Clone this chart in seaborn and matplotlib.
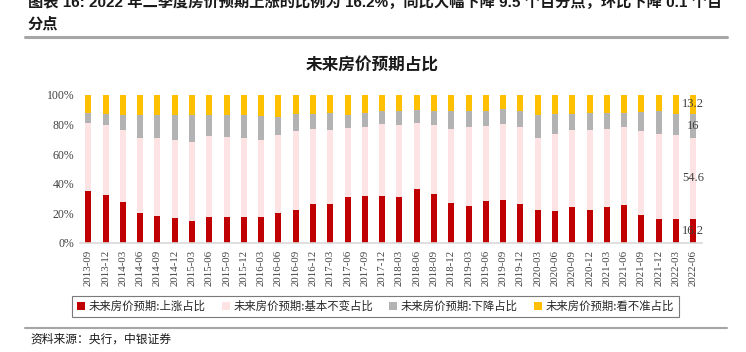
import matplotlib
matplotlib.use("Agg")
import matplotlib.pyplot as plt
from matplotlib.patches import Patch
from matplotlib.lines import Line2D
import seaborn as sns
import pandas as pd

dates = ["2013-09", "2013-12", "2014-03", "2014-06", "2014-09", "2014-12",
         "2015-03", "2015-06", "2015-09", "2015-12", "2016-03", "2016-06",
         "2016-09", "2016-12", "2017-03", "2017-06", "2017-09", "2017-12",
         "2018-03", "2018-06", "2018-09", "2018-12", "2019-03", "2019-06",
         "2019-09", "2019-12", "2020-03", "2020-06", "2020-09", "2020-12",
         "2021-03", "2021-06", "2021-09", "2021-12", "2022-03", "2022-06"]

up = [35.2, 32.1, 27.8, 20.5, 18.5, 16.7, 14.9, 17.6, 17.8, 17.6, 17.2, 20.5,
      22.3, 26.6, 26.4, 30.7, 31.4, 31.4, 30.7, 36.1, 33.2, 26.9, 25.1, 28.0,
      29.1, 26.2, 22.3, 21.9, 24.6, 22.3, 24.6, 25.7, 19.2, 16.0, 16.3, 16.2]
unchanged = [45.8, 47.4, 48.7, 50.6, 52.4, 52.6, 53.5, 54.4, 53.8, 53.1, 52.1, 52.4,
             52.9, 50.4, 49.9, 46.5, 46.5, 48.5, 48.8, 44.7, 46.3, 50.1, 53.2, 51.0,
             50.8, 51.7, 48.4, 51.9, 51.5, 53.8, 52.4, 52.2, 56.4, 57.4, 56.4, 54.6]
down = [6.6, 7.4, 10.0, 15.4, 15.6, 16.9, 17.8, 14.5, 14.6, 15.5, 16.5, 12.2,
        11.7, 9.9, 11.3, 9.3, 9.9, 9.3, 9.7, 9.0, 9.7, 12.2, 10.9, 10.2,
        10.4, 11.3, 15.8, 13.1, 10.8, 11.5, 10.8, 9.7, 12.7, 15.8, 14.2, 16.0]
uncertain = [12.4, 13.1, 13.5, 13.5, 13.5, 13.8, 13.8, 13.5, 13.8, 13.8, 14.2, 14.9,
             13.1, 13.1, 12.4, 13.5, 12.2, 10.8, 10.8, 10.2, 10.8, 10.8, 10.8, 10.8,
             9.7, 10.8, 13.5, 13.1, 13.1, 12.4, 12.2, 12.4, 11.7, 10.8, 13.1, 13.2]

series_names = ["未来房价预期:上涨占比", "未来房价预期:基本不变占比",
                "未来房价预期:下降占比", "未来房价预期:看不准占比"]
colors = ["#C00000", "#FDE3E3", "#B3B3B3", "#FFC000"]

header1 = "图表 16: 2022 年二季度房价预期上涨的比例为 16.2%，同比大幅下降 9.5 个百分点，环比下降 0.1 个百"
header2 = "分点"
title = "未来房价预期占比"
source = "资料来源：央行，中银证券"

sns.set_style("white")
plt.rcParams["font.family"] = ["Liberation Serif", "Noto Sans CJK SC", "DejaVu Sans"]

df = pd.DataFrame({"date": dates, "up": up, "unchanged": unchanged,
                   "down": down, "uncertain": uncertain})
df["c1"] = df["up"]
df["c2"] = df["c1"] + df["unchanged"]
df["c3"] = df["c2"] + df["down"]
df["c4"] = df["c3"] + df["uncertain"]

fig = plt.figure(figsize=(7.46, 3.52), dpi=100)
ax = fig.add_axes([0.1068, 0.3097, 0.8341, 0.4213])

for col, color in zip(["c4", "c3", "c2", "c1"], colors[::-1]):
    sns.barplot(data=df, x="date", y=col, color=color, width=0.35,
                errorbar=None, ax=ax, saturation=1, linewidth=0)

ax.set_ylim(0, 100)
ax.set_xlim(-0.5, len(dates) - 0.5)
ax.set_yticks([0, 20, 40, 60, 80, 100])
ax.set_yticklabels([f"{v}%" for v in [0, 20, 40, 60, 80, 100]])
ax.set_xlabel("")
ax.set_ylabel("")
for s in ["top", "right", "left"]:
    ax.spines[s].set_visible(False)
ax.spines["bottom"].set_color("#D9D9D9")
ax.spines["bottom"].set_linewidth(1.2)
ax.tick_params(axis="y", length=0, labelsize=8.5, labelcolor="#404040", pad=4)
ax.tick_params(axis="x", length=3, color="#D9D9D9", labelsize=7.8,
               labelcolor="#404040", rotation=90, pad=2)

# data labels for last bar
last = len(dates) - 1
vals = [up[last], unchanged[last], down[last], uncertain[last]]
cum = 0
for v in vals:
    ax.text(last, cum + v / 2, f"{v:g}", ha="center", va="center",
            fontsize=9, color="#404040", family="Liberation Serif")
    cum += v

fig.text(0.4987, 0.8125, title, ha="center", va="center", fontsize=12,
         fontweight="bold", family=["Noto Sans CJK SC"], color="#1a1a1a")

handles = [Patch(facecolor=c, edgecolor="none") for c in colors]
leg = fig.legend(handles, series_names, loc="center", ncol=4,
                 bbox_to_anchor=(0.5034, 0.129), frameon=True, fancybox=False,
                 prop={"family": ["Noto Sans CJK SC"], "size": 8.2},
                 handlelength=0.7, handleheight=0.7, handletextpad=0.3,
                 columnspacing=1.45, borderpad=0.45)
leg.get_frame().set_edgecolor("#595959")
leg.get_frame().set_linewidth(0.8)

fig.text(28 / 746, 1 - 7 / 352, header1, ha="left", va="baseline", fontsize=11,
         fontweight="bold", family=["Liberation Sans", "Noto Sans CJK SC"], color="#1a1a1a")
fig.text(28 / 746, 1 - 29 / 352, header2, ha="left", va="baseline", fontsize=11,
         fontweight="bold", family=["Liberation Sans", "Noto Sans CJK SC"], color="#1a1a1a")
fig.add_artist(Line2D([25 / 746, 727 / 746], [1 - 37 / 352] * 2, color="#A6A6A6", lw=2.2))
fig.add_artist(Line2D([25 / 746, 727 / 746], [1 - 328 / 352] * 2, color="#A6A6A6", lw=1.5))
fig.text(30 / 746, 1 - 339 / 352, source, ha="left", va="center", fontsize=8.5,
         style="italic", family=["Noto Sans CJK SC"], color="#1a1a1a")

fig.savefig("out.png", dpi=100)
